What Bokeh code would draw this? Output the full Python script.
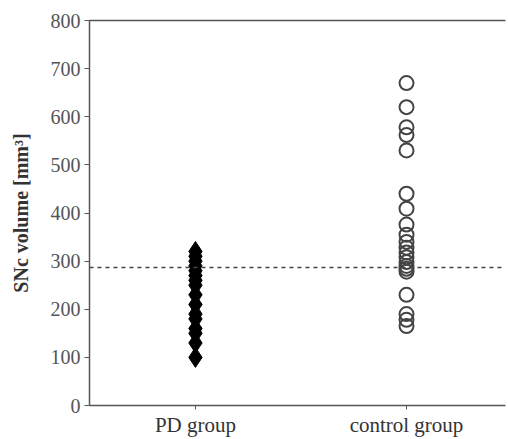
from bokeh.plotting import figure
from bokeh.models import Range1d, FixedTicker, LinearAxis, Span
from bokeh.embed import file_html
from bokeh.resources import INLINE

groups = ["PD group", "control group"]
pd_values = [320, 310, 300, 290, 280, 270, 260, 250, 230, 210, 190, 180, 160, 150, 130, 100]
control_values = [670, 620, 578, 562, 530, 440, 409, 376, 355, 340, 328, 318, 308, 298, 290, 284, 278, 230, 190, 178, 165]
threshold = 287
y_ticks = [0, 100, 200, 300, 400, 500, 600, 700, 800]
y_title = "SNc volume [mm³]"

p = figure(width=508, height=439, output_backend="svg", toolbar_location=None,
           x_range=Range1d(0.498, 2.469), y_range=Range1d(0, 800),
           min_border_left=89, min_border_right=3, min_border_top=20, min_border_bottom=32)
p.grid.visible = False
p.outline_line_color = None
p.background_fill_color = "white"

font = "Liberation Serif"
axcol = "#555555"

p.xaxis.ticker = FixedTicker(ticks=[1, 2])
p.xaxis.major_label_overrides = {1: groups[0], 2: groups[1]}
p.xaxis.minor_tick_line_color = None
p.xaxis.major_tick_in = 0
p.xaxis.major_tick_out = 4
p.xaxis.axis_line_color = axcol
p.xaxis.axis_line_width = 1.5
p.xaxis.major_tick_line_color = axcol
p.xaxis.major_label_text_font = font
p.xaxis.major_label_text_font_size = "21px"
p.xaxis.major_label_text_color = "#333333"
p.xaxis.major_label_standoff = 3

p.yaxis.ticker = FixedTicker(ticks=y_ticks)
p.yaxis.minor_tick_line_color = None
p.yaxis.major_tick_in = 0
p.yaxis.major_tick_out = 5
p.yaxis.axis_line_color = axcol
p.yaxis.axis_line_width = 1.5
p.yaxis.major_tick_line_color = axcol
p.yaxis.major_label_text_font = font
p.yaxis.major_label_text_font_size = "20px"
p.yaxis.major_label_text_color = "#555555"
p.yaxis.major_label_standoff = 4
p.yaxis.axis_label = y_title
p.yaxis.axis_label_text_font = font
p.yaxis.axis_label_text_font_style = "bold"
p.yaxis.axis_label_text_font_size = "20px"
p.yaxis.axis_label_text_color = "#333333"
p.yaxis.axis_label_standoff = 16

top = LinearAxis(ticker=FixedTicker(ticks=[]), major_label_text_font_size="0px",
                 axis_line_color=axcol, axis_line_width=1.5,
                 major_tick_line_color=None, minor_tick_line_color=None)
p.add_layout(top, "above")

p.add_layout(Span(location=threshold, dimension="width", line_color="#444444",
                  line_dash="4 4", line_width=1.5))

p.scatter(x=[1] * len(pd_values), y=pd_values, marker="diamond", size=20,
          fill_color="black", line_color="black")
p.scatter(x=[2] * len(control_values), y=control_values, marker="circle", size=14,
          fill_color="white", fill_alpha=0, line_color="#444444", line_width=2)

open("out.html", "w").write(file_html(p, INLINE))
